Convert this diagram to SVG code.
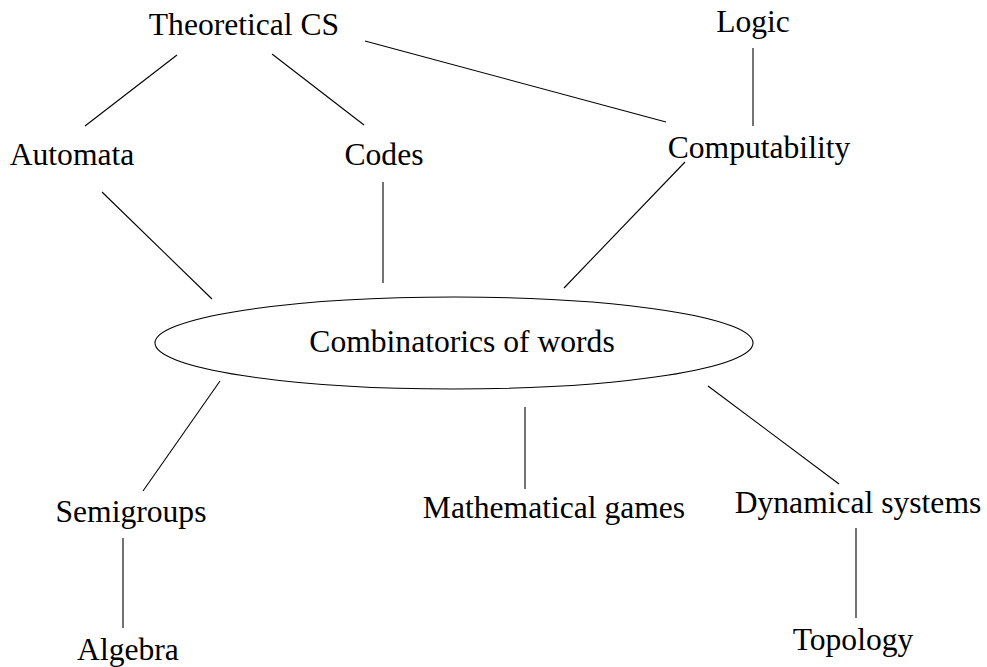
<svg xmlns="http://www.w3.org/2000/svg" width="987" height="667" viewBox="0 0 987 667">
<style>
text{font-family:"Liberation Serif","Times New Roman",serif;font-size:31.6px;fill:#000;text-anchor:middle}
.e line{stroke:#000;stroke-width:1.1;fill:none}
</style>
<rect width="987" height="667" fill="#fff"/>
<g class="e" id="connectors">
<line x1="177" y1="55" x2="85" y2="126"/>
<line x1="272" y1="54" x2="364" y2="125"/>
<line x1="365" y1="41" x2="666" y2="122"/>
<line x1="753" y1="48" x2="753" y2="126"/>
<line x1="102" y1="192" x2="212" y2="299"/>
<line x1="383" y1="182" x2="383" y2="283"/>
<line x1="685" y1="162" x2="564" y2="288"/>
<line x1="220" y1="381" x2="143" y2="491"/>
<line x1="123" y1="538" x2="123" y2="628"/>
<line x1="525" y1="407" x2="525" y2="489"/>
<line x1="708" y1="386" x2="839" y2="484"/>
<line x1="856" y1="528" x2="856" y2="618"/>
</g>
<g id="theoretical-cs"><text x="244" y="35">Theoretical CS</text></g>
<g id="logic"><text x="753" y="32">Logic</text></g>
<g id="automata"><text x="72" y="165">Automata</text></g>
<g id="codes"><text x="384" y="165">Codes</text></g>
<g id="computability"><text x="759" y="158">Computability</text></g>
<g id="combinatorics"><ellipse cx="454" cy="343" rx="299" ry="46" fill="none" stroke="#000" stroke-width="1.1"/><text x="462" y="352">Combinatorics of words</text></g>
<g id="semigroups"><text x="131" y="522">Semigroups</text></g>
<g id="algebra"><text x="128" y="660">Algebra</text></g>
<g id="mathematical-games"><text x="554" y="518">Mathematical games</text></g>
<g id="dynamical-systems"><text x="858" y="513">Dynamical systems</text></g>
<g id="topology"><text x="853" y="650">Topology</text></g>
</svg>
